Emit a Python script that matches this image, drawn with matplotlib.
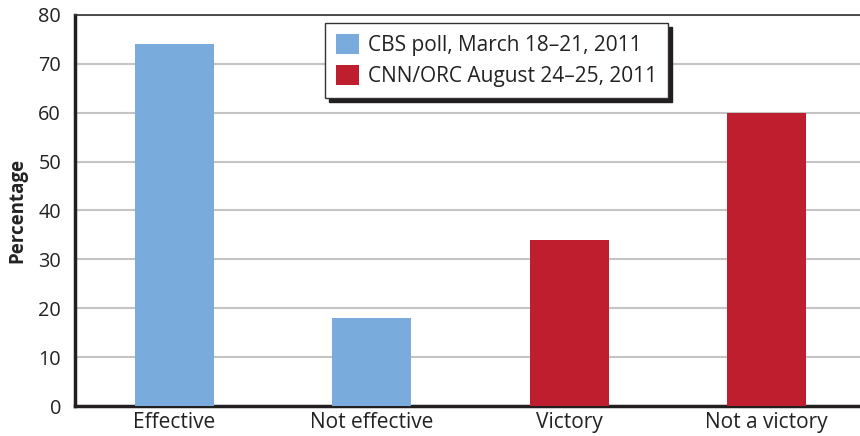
import numpy as np
import matplotlib.pyplot as plt
from matplotlib.patches import Patch

plt.rcParams['font.family'] = ['Open Sans', 'DejaVu Sans']

categories = ['Effective', 'Not effective', 'Victory', 'Not a victory']
values = [74, 18, 34, 60]
series = ['CBS poll', 'CBS poll', 'CNN/ORC', 'CNN/ORC']
legend_labels = ['CBS poll, March 18\u201321, 2011', 'CNN/ORC August 24\u201325, 2011']
yticks = [0, 10, 20, 30, 40, 50, 60, 70, 80]

blue = '#79acdc'
red = '#be1e2d'
colors = [blue if s == 'CBS poll' else red for s in series]

fig = plt.figure(figsize=(8.6, 4.36), dpi=100)
ax = fig.add_axes([75 / 860, 1 - 406 / 436, 1 - 75 / 860, (406 - 15) / 436])

x = np.arange(len(categories))
ax.bar(x, values, width=0.4, color=colors, zorder=3)

ax.set_xlim(-0.505, 3.475)
ax.set_ylim(0, 80)
ax.set_yticks(yticks)
ax.set_xticks(x)
ax.set_xticklabels(categories)
ax.tick_params(axis='both', length=0, colors='#222222')
ax.tick_params(axis='y', pad=10, labelsize=14.3)
ax.tick_params(axis='x', pad=4, labelsize=15)
ax.grid(axis='y', color='#c4c4c4', linewidth=1.5, zorder=0)

for side in ['left', 'bottom']:
    ax.spines[side].set_linewidth(2.5)
    ax.spines[side].set_color('#231f20')
ax.spines['top'].set_linewidth(1.2)
ax.spines['top'].set_color('#333333')
ax.spines['right'].set_visible(False)

ax.set_ylabel('Percentage', fontsize=13.5, fontweight='bold', color='#222222', labelpad=8)

handles = [Patch(facecolor=blue), Patch(facecolor=red)]
fig.legend(handles, legend_labels, loc='upper left',
           bbox_to_anchor=(325 / 860, 1 - 23 / 436), borderaxespad=0,
           fontsize=15, frameon=True, fancybox=False, framealpha=1,
           edgecolor='#333333', handlelength=1.1, handleheight=1.1,
           handletextpad=0.45, labelspacing=0.45, borderpad=0.52,
           shadow={'color': '#231f20', 'alpha': 1, 'ox': 3, 'oy': -3})
for t in fig.legends[0].get_texts():
    t.set_color('#222222')

fig.savefig('out.png', dpi=100)
